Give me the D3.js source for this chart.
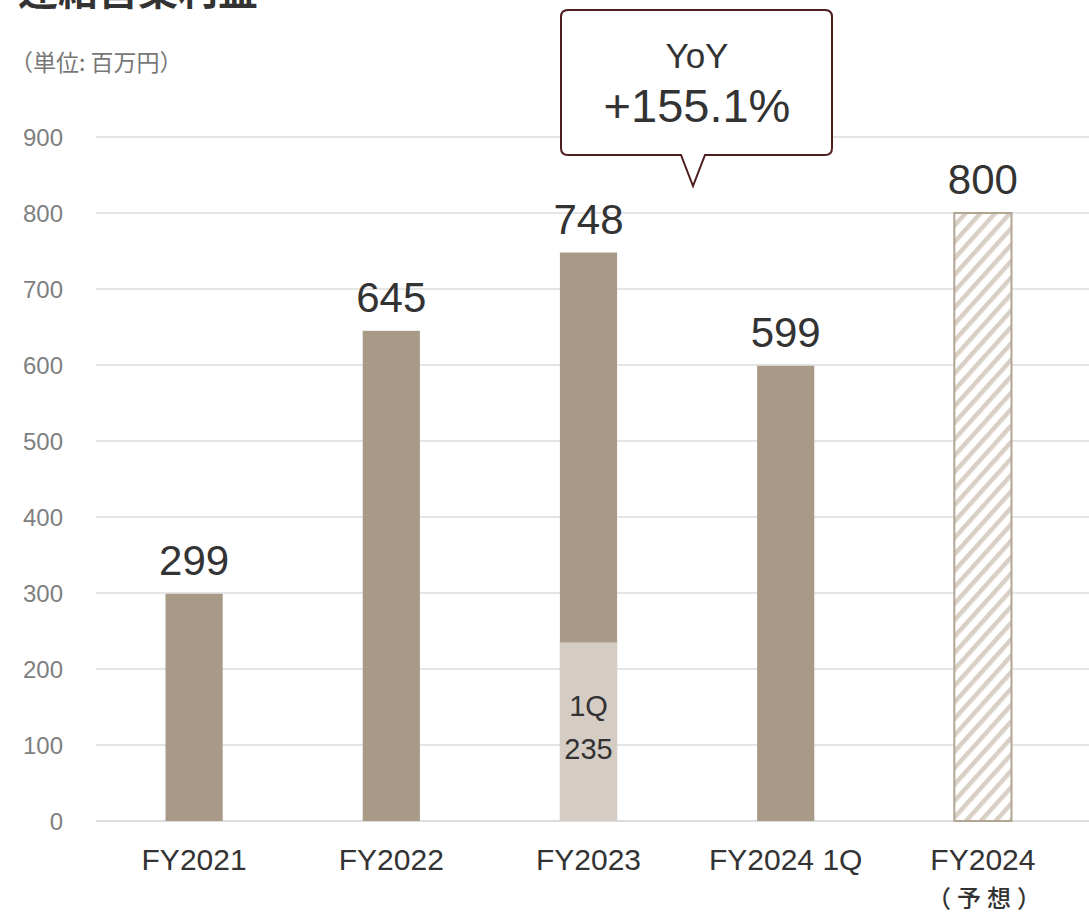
<!DOCTYPE html>
<html>
<head>
<meta charset="utf-8">
<script src="https://cdn.jsdelivr.net/npm/d3@7"></script>
<style>
  body { margin: 0; background: #fff; }
  text { font-family: "Liberation Sans", Arial, "Noto Sans CJK JP", sans-serif; }
</style>
</head>
<body>
<svg id="chart" width="1089" height="915"></svg>
<script>
var categories = ['FY2021', 'FY2022', 'FY2023', 'FY2024 1Q', 'FY2024'];
var subLabels = ['', '', '', '', '（予想）'];
var totals = [299, 645, 748, 599, 800];
var firstQuarter = [null, null, 235, null, null];
var forecast = [false, false, false, false, true];
var yTicks = [0, 100, 200, 300, 400, 500, 600, 700, 800, 900];

var svg = d3.select('#chart');

var x = d3.scaleBand()
    .domain(categories)
    .range([95.5, 1081.5])
    .paddingInner(0.71)
    .paddingOuter(0.355);

var y = d3.scaleLinear()
    .domain([0, 900])
    .range([821, 137]);

var defs = svg.append('defs');
var pat = defs.append('pattern')
    .attr('id', 'hatch')
    .attr('patternUnits', 'userSpaceOnUse')
    .attr('width', 11)
    .attr('height', 11)
    .attr('patternTransform', 'rotate(42)');
pat.append('rect').attr('width', 11).attr('height', 11).attr('fill', '#fff');
pat.append('rect').attr('width', 4.5).attr('height', 11).attr('fill', '#d8cfc5');

// title (cut at top, as in the original) and unit
svg.append('text')
    .attr('x', 18).attr('y', 5)
    .style('font-family', '"Noto Sans CJK JP", sans-serif')
    .style('font-size', '40px').style('font-weight', 'bold')
    .style('fill', '#333')
    .text('連結営業利益');
svg.append('text')
    .attr('x', 10).attr('y', 71)
    .style('font-family', '"Noto Sans CJK JP", sans-serif')
    .style('font-size', '23px').style('fill', '#777')
    .text('（単位: 百万円）');

// grid
svg.append('g').selectAll('line')
    .data(yTicks)
    .enter().append('line')
    .attr('x1', 96).attr('x2', 1089)
    .attr('y1', function (d) { return y(d); })
    .attr('y2', function (d) { return y(d); })
    .style('stroke', function (d) { return d === 0 ? '#d0d0d0' : '#dcdcdc'; })
    .style('stroke-width', 1.5);

// y axis labels
svg.append('g').selectAll('text')
    .data(yTicks)
    .enter().append('text')
    .attr('x', 63)
    .attr('y', function (d) { return y(d) + 8.5; })
    .attr('text-anchor', 'end')
    .style('font-size', '24px').style('fill', '#7f7f7f')
    .text(function (d) { return d; });

var data = categories.map(function (c, i) {
    return {cat: c, total: totals[i], q1: firstQuarter[i], fc: forecast[i], sub: subLabels[i]};
});

var bars = svg.append('g');
bars.selectAll('.bar')
    .data(data)
    .enter().append('rect')
    .attr('class', 'bar')
    .attr('x', function (d) { return x(d.cat); })
    .attr('width', x.bandwidth())
    .attr('y', function (d) { return y(d.total); })
    .attr('height', function (d) { return y(0) - y(d.total); })
    .style('fill', function (d) { return d.fc ? 'url(#hatch)' : '#a89a87'; })
    .style('stroke', function (d) { return d.fc ? '#b3a593' : 'none'; })
    .style('stroke-width', 2);

var q1Data = data.filter(function (d) { return d.q1 !== null; });
bars.selectAll('.q1')
    .data(q1Data)
    .enter().append('rect')
    .attr('class', 'q1')
    .attr('x', function (d) { return x(d.cat); })
    .attr('width', x.bandwidth())
    .attr('y', function (d) { return y(d.q1); })
    .attr('height', function (d) { return y(0) - y(d.q1); })
    .style('fill', '#d5ccc3');

bars.selectAll('.q1lab')
    .data(q1Data)
    .enter().append('text')
    .attr('x', function (d) { return x(d.cat) + x.bandwidth() / 2; })
    .attr('y', 716)
    .attr('text-anchor', 'middle')
    .style('font-size', '29px').style('fill', '#333')
    .each(function (d) {
        var t = d3.select(this);
        t.append('tspan').attr('x', t.attr('x')).text('1Q');
        t.append('tspan').attr('x', t.attr('x')).attr('dy', 43).text(d.q1);
    });

// value labels
svg.append('g').selectAll('text')
    .data(data)
    .enter().append('text')
    .attr('x', function (d) { return x(d.cat) + x.bandwidth() / 2; })
    .attr('y', function (d) { return y(d.total) - 19; })
    .attr('text-anchor', 'middle')
    .style('font-size', '42px').style('fill', '#333')
    .text(function (d) { return d.total; });

// x labels
var xl = svg.append('g');
xl.selectAll('.xlab')
    .data(data)
    .enter().append('text')
    .attr('x', function (d) { return x(d.cat) + x.bandwidth() / 2; })
    .attr('y', 870)
    .attr('text-anchor', 'middle')
    .style('font-size', '30px').style('fill', '#333')
    .text(function (d) { return d.cat; });
xl.selectAll('.xsub')
    .data(data.filter(function (d) { return d.sub; }))
    .enter().append('text')
    .attr('x', function (d) { return x(d.cat) + x.bandwidth() / 2 + 4; })
    .attr('y', 907)
    .attr('text-anchor', 'middle')
    .style('font-family', '"Noto Sans CJK JP", sans-serif')
    .style('font-size', '24px').style('fill', '#333').style('font-weight', '500')
    .style('letter-spacing', '6px')
    .text(function (d) { return d.sub; });

// callout
var co = svg.append('g');
var cx0 = 561, cx1 = 832, cy0 = 10, cy1 = 155, r = 7;
var tipL = 681, tipR = 705, tipX = 693, tipY = 186;
var path = 'M' + (cx0 + r) + ',' + cy0 +
    ' H' + (cx1 - r) + ' Q' + cx1 + ',' + cy0 + ' ' + cx1 + ',' + (cy0 + r) +
    ' V' + (cy1 - r) + ' Q' + cx1 + ',' + cy1 + ' ' + (cx1 - r) + ',' + cy1 +
    ' H' + tipR + ' L' + tipX + ',' + tipY + ' L' + tipL + ',' + cy1 +
    ' H' + (cx0 + r) + ' Q' + cx0 + ',' + cy1 + ' ' + cx0 + ',' + (cy1 - r) +
    ' V' + (cy0 + r) + ' Q' + cx0 + ',' + cy0 + ' ' + (cx0 + r) + ',' + cy0 + ' Z';
co.append('path')
    .attr('d', path)
    .style('fill', '#fff')
    .style('stroke', '#4e1e1e')
    .style('stroke-width', 2);
co.append('text')
    .attr('x', 697).attr('y', 68)
    .attr('text-anchor', 'middle')
    .style('font-size', '35px').style('fill', '#333')
    .text('YoY');
co.append('text')
    .attr('x', 697).attr('y', 122)
    .attr('text-anchor', 'middle')
    .style('font-size', '47px').style('fill', '#333')
    .text('+155.1%');
</script>
</body>
</html>
